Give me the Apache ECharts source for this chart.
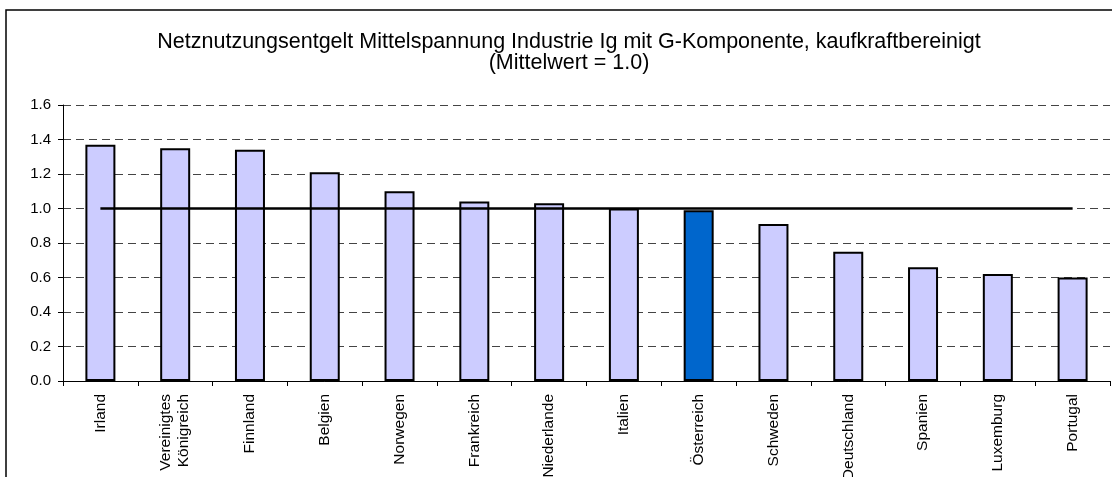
<!DOCTYPE html>
<html><head><meta charset="utf-8">
<script src="https://cdn.jsdelivr.net/npm/echarts@6/dist/echarts.min.js"></script>
<style>html,body{margin:0;padding:0;background:#fff}#c{width:1112px;height:477px}</style>
</head><body><div id="c"></div>
<script>
var categories = ["Irland","Vereinigtes\nKönigreich","Finnland","Belgien","Norwegen","Frankreich","Niederlande","Italien","Österreich","Schweden","Deutschland","Spanien","Luxemburg","Portugal"];
var values = [1.37, 1.35, 1.34, 1.21, 1.10, 1.04, 1.03, 1.00, 0.99, 0.91, 0.75, 0.66, 0.62, 0.60];
var meanValues = [1,1,1,1,1,1,1,1,1,1,1,1,1,1];
var highlight = "Österreich";
var yTicks = {min: 0, max: 1.6, interval: 0.2};

var font = "Liberation Sans, Arial, sans-serif";
var chart = echarts.init(document.getElementById('c'), null, {renderer: 'canvas'});
chart.setOption({
  animation: false,
  backgroundColor: '#fff',
  title: {
    text: "Netznutzungsentgelt Mittelspannung Industrie Ig mit G-Komponente, kaufkraftbereinigt\n(Mittelwert = 1.0)",
    left: 564, top: 27, textAlign: 'center',
    textStyle: {fontFamily: font, fontSize: 21.5, fontWeight: 'normal', color: '#000', lineHeight: 21}
  },
  graphic: [{type: 'rect', shape: {x: 6, y: 10, width: 1200, height: 600}, style: {fill: 'none', stroke: '#000', lineWidth: 1.5}, silent: true, z: 100}],
  grid: {left: 63, right: 2, top: 105, bottom: 96, containLabel: false, outerBoundsMode: 'none'},
  xAxis: {
    type: 'category', data: categories, boundaryGap: true,
    axisLine: {lineStyle: {color: '#000', width: 1}},
    axisTick: {show: true, length: 5, lineStyle: {color: '#000'}},
    axisLabel: {rotate: 90, interval: 0, margin: 13, fontFamily: font, fontSize: 15.5, color: '#000', lineHeight: 18}
  },
  yAxis: {
    type: 'value', min: yTicks.min, max: yTicks.max, interval: yTicks.interval,
    axisLine: {show: true, lineStyle: {color: '#000', width: 1}},
    axisTick: {show: true, length: 5, lineStyle: {color: '#000'}},
    axisLabel: {formatter: function(v){return v.toFixed(1);}, margin: 12, fontFamily: font, fontSize: 15, color: '#000'},
    splitLine: {show: true, lineStyle: {color: '#444', type: [8,5], width: 1}}
  },
  series: [{
    type: 'bar', barWidth: 30,
    data: values.map(function(v, i){
      return {value: v, itemStyle: {color: categories[i] === highlight ? '#0066CC' : '#CCCCFF'}};
    }),
    itemStyle: {borderColor: '#000', borderWidth: 2},
    z: 2
  }, {
    type: 'line', data: meanValues, symbol: 'none',
    lineStyle: {color: '#000', width: 2.5}, z: 5
  }]
});
</script></body></html>
